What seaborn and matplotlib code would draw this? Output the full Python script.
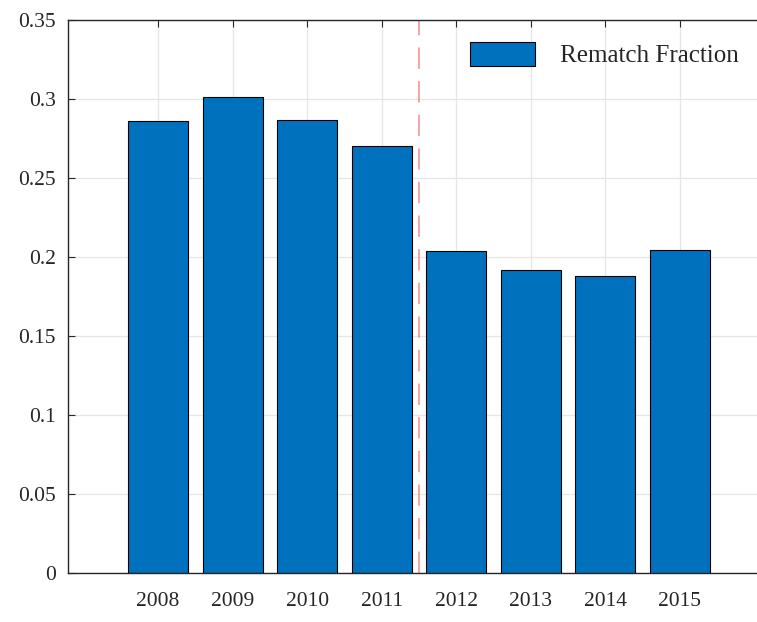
import matplotlib
matplotlib.use("Agg")
import matplotlib.pyplot as plt
import seaborn as sns
import pandas as pd

years = ['2008', '2009', '2010', '2011', '2012', '2013', '2014', '2015']
rematch_fraction = [0.286, 0.301, 0.287, 0.270, 0.204, 0.192, 0.188, 0.2045]
y_ticks = [0, 0.05, 0.1, 0.15, 0.2, 0.25, 0.3, 0.35]

sns.set_theme(style="white")
plt.rcParams['font.family'] = ['Liberation Serif', 'DejaVu Serif']

df = pd.DataFrame({'year': years, 'fraction': rematch_fraction})

fig = plt.figure(figsize=(7.57, 6.22), dpi=100)
ax = fig.add_axes([68 / 757, 1 - 573 / 622, 702 / 757, 553 / 622])

sns.barplot(data=df, x='year', y='fraction', ax=ax, color='#0072BD',
            saturation=1, width=0.8, edgecolor='black', linewidth=0.8)

# split marker between 2011 and 2012
ax.axvline(3.5, color='#f08080', linestyle=(0, (14, 8)), linewidth=1.1, alpha=0.9)

ax.set_xlim(-1.21, 8.21)
ax.set_ylim(0, 0.35)
ax.set_yticks(y_ticks)
ax.yaxis.set_major_formatter(plt.FuncFormatter(lambda v, p: f'{v:g}'))
ax.set_xlabel(None)
ax.set_ylabel(None)

ax.set_axisbelow(True)
ax.grid(True, color='#e6e6e6', linewidth=0.9)
for s in ['left', 'top', 'bottom']:
    ax.spines[s].set_color('#262626')
    ax.spines[s].set_linewidth(1.0)
ax.spines['right'].set_visible(False)

ax.tick_params(axis='both', direction='in', length=5, width=0.8, color='#262626',
               labelcolor='#262626', labelsize=15.5, top=True, left=True, bottom=True)
ax.tick_params(axis='x', pad=14)
ax.tick_params(axis='y', pad=9)

ax.legend(handles=[ax.containers[0]], labels=['Rematch Fraction'],
          loc='upper left', bbox_to_anchor=(470 / 757, 1 - 42 / 622),
          bbox_transform=fig.transFigure, frameon=False, fontsize=18,
          handlelength=2.6, handleheight=1.1, handletextpad=1.0,
          borderpad=0, borderaxespad=0)

fig.savefig('out.png', dpi=100)
